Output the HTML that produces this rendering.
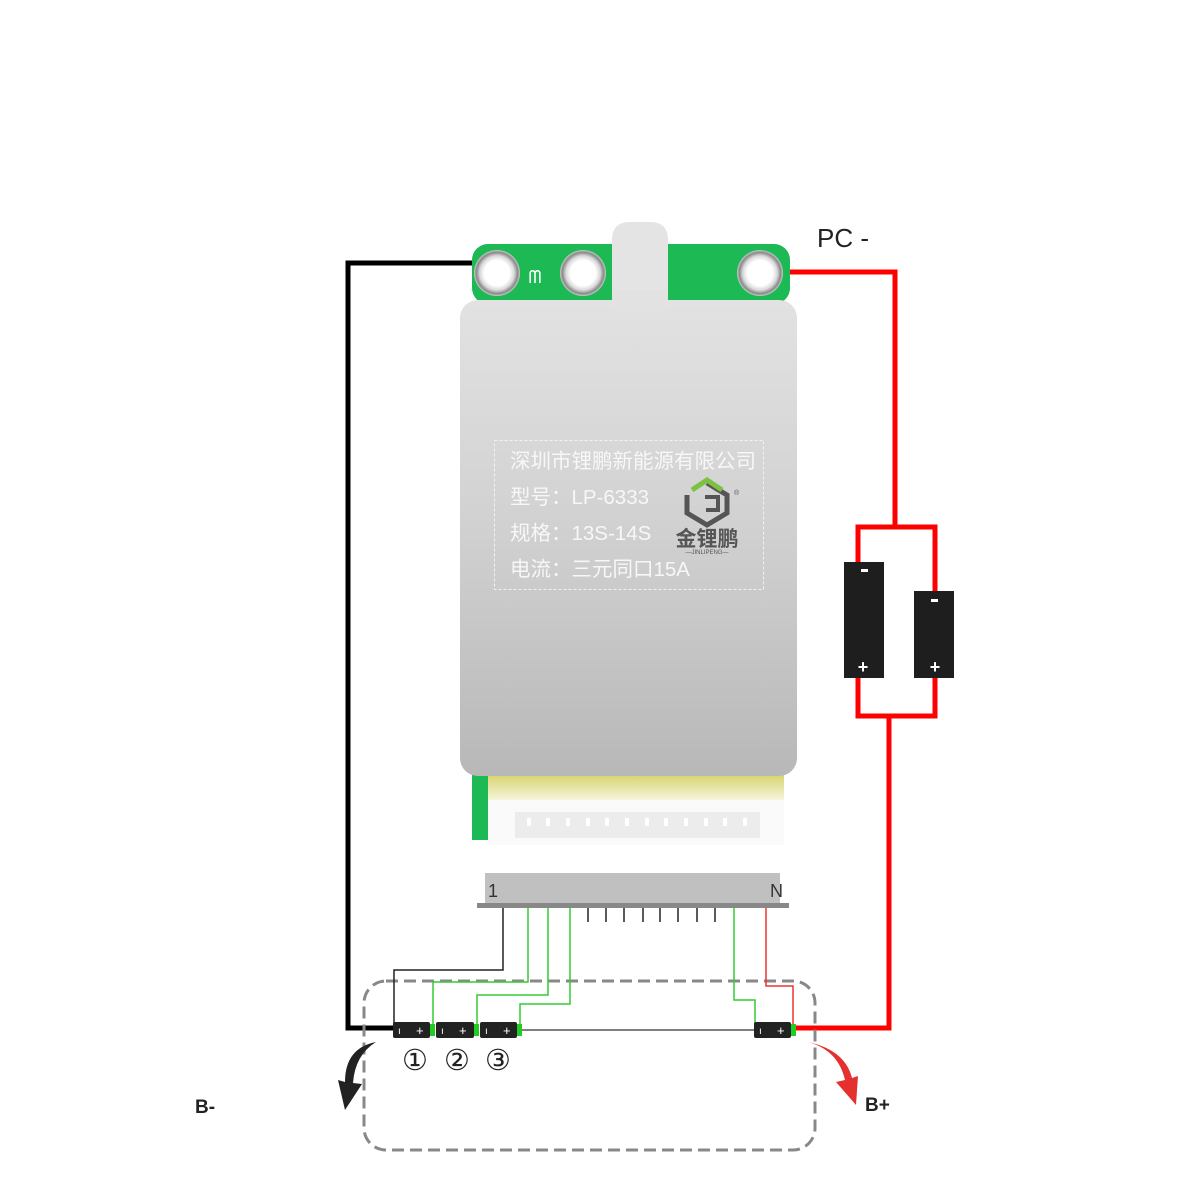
<!DOCTYPE html>
<html><head><meta charset="utf-8"><style>
html,body{margin:0;padding:0;background:#fff;}
svg{display:block;}
</style></head><body>
<svg width="1200" height="1200" viewBox="0 0 1200 1200" xmlns="http://www.w3.org/2000/svg">
<defs>
<linearGradient id="metal" x1="0" y1="0" x2="0" y2="1">
<stop offset="0" stop-color="#e2e2e2"/><stop offset="0.45" stop-color="#d2d2d2"/><stop offset="1" stop-color="#b8b8b8"/>
</linearGradient>
<radialGradient id="hole" cx="0.5" cy="0.5" r="0.5">
<stop offset="0.55" stop-color="#ffffff"/><stop offset="0.75" stop-color="#d8d8d8"/><stop offset="0.9" stop-color="#888"/><stop offset="1" stop-color="#ccc"/>
</radialGradient>
<linearGradient id="yel" x1="0" y1="0" x2="0" y2="1">
<stop offset="0" stop-color="#d8d470"/><stop offset="1" stop-color="#fbfbf0"/>
</linearGradient>
</defs>

<polyline points="472,263 348,263 348,1028 395,1028" fill="none" stroke="#000" stroke-width="5"/>
<polyline points="790,272 895,272 895,527" fill="none" stroke="#f00" stroke-width="5"/>
<rect x="858" y="527" width="77" height="189" fill="none" stroke="#f00" stroke-width="5"/>
<polyline points="889,716 889,1028 795,1028" fill="none" stroke="#f00" stroke-width="5"/>
<rect x="844" y="562" width="40" height="116" fill="#1e1e1e"/>
<rect x="861" y="569" width="7" height="3" fill="#fff"/>
<text x="863" y="673" font-family="Liberation Sans,sans-serif" font-size="18" fill="#fff" text-anchor="middle" font-weight="bold">+</text>
<rect x="914" y="591" width="40" height="87" fill="#1e1e1e"/>
<rect x="931" y="599" width="7" height="3" fill="#fff"/>
<text x="935" y="673" font-family="Liberation Sans,sans-serif" font-size="18" fill="#fff" text-anchor="middle" font-weight="bold">+</text>

<text x="817" y="247" font-family="Liberation Sans,sans-serif" font-size="26" fill="#222">PC -</text>

<rect x="472" y="244" width="318" height="60" rx="16" fill="#1db954"/>
<circle cx="497" cy="273" r="23" fill="url(#hole)"/>
<circle cx="583" cy="273" r="23" fill="url(#hole)"/>
<circle cx="760" cy="273" r="23" fill="url(#hole)"/>
<text x="535" y="283" font-family="Liberation Sans,sans-serif" font-size="18" fill="#fff" text-anchor="middle">ᗰ</text>
<path d="M612,300 L612,240 Q612,222 630,222 L650,222 Q668,222 668,240 L668,300 Z" fill="#e4e4e4"/>
<rect x="472" y="760" width="310" height="80" fill="#1db954"/>
<rect x="488" y="775" width="296" height="30" fill="url(#yel)"/>
<rect x="488" y="800" width="296" height="45" fill="#fafafa"/>
<rect x="515" y="812" width="245" height="26" fill="#ececec"/>
<g fill="#fff">
<rect x="527" y="818" width="4" height="8"/><rect x="546" y="818" width="4" height="8"/><rect x="566" y="818" width="4" height="8"/><rect x="586" y="818" width="4" height="8"/><rect x="605" y="818" width="4" height="8"/><rect x="625" y="818" width="4" height="8"/><rect x="645" y="818" width="4" height="8"/><rect x="664" y="818" width="4" height="8"/><rect x="684" y="818" width="4" height="8"/><rect x="704" y="818" width="4" height="8"/><rect x="723" y="818" width="4" height="8"/><rect x="743" y="818" width="4" height="8"/>
</g>
<rect x="460" y="300" width="337" height="476" rx="18" fill="url(#metal)"/>
<rect x="612" y="290" width="56" height="20" fill="#e2e2e2"/>
<rect x="494.5" y="440.5" width="269" height="149" fill="none" stroke="#f2f2f2" stroke-width="1" stroke-dasharray="3 2"/>
<g font-family="Liberation Sans,'Noto Sans CJK SC',sans-serif" font-size="20.5" fill="#f7f7f7">
<text x="510" y="468">深圳市锂鹏新能源有限公司</text>
<text x="510" y="504">型号：LP-6333</text>
<text x="510" y="540">规格：13S-14S</text>
<text x="510" y="576">电流：三元同口15A</text>
</g>
<path d="M707,483 L727,495 L727,513 L707,525 L687,513 L687,495" fill="none" stroke="#555" stroke-width="5"/>
<path d="M692,490 L707,480 L722,490" fill="none" stroke="#7bc142" stroke-width="5"/>
<path d="M705,497 L718,497 L718,510 L706,510" fill="none" stroke="#555" stroke-width="4"/>
<text x="734" y="495" font-family="Liberation Sans,sans-serif" font-size="7" fill="#555">®</text>
<text x="707" y="546" font-family="'Noto Sans CJK SC',sans-serif" font-size="21" font-weight="bold" fill="#555" text-anchor="middle">金锂鹏</text>
<text x="707" y="554" font-family="Liberation Sans,sans-serif" font-size="6" fill="#555" text-anchor="middle">—JINLIPENG—</text>

<rect x="485" y="873" width="295" height="31" fill="#c0c0c0"/>
<rect x="477" y="903" width="312" height="5" fill="#888"/>
<text x="488" y="897" font-family="Liberation Sans,sans-serif" font-size="18" fill="#333">1</text>
<text x="770" y="897" font-family="Liberation Sans,sans-serif" font-size="18" fill="#333">N</text>
<g stroke="#222" stroke-width="1.5">
<line x1="588" y1="908" x2="588" y2="922"/><line x1="606" y1="908" x2="606" y2="922"/><line x1="624" y1="908" x2="624" y2="922"/><line x1="643" y1="908" x2="643" y2="922"/><line x1="660" y1="908" x2="660" y2="922"/><line x1="678" y1="908" x2="678" y2="922"/><line x1="697" y1="908" x2="697" y2="922"/><line x1="715" y1="908" x2="715" y2="922"/>
</g>

<rect x="364" y="981" width="451" height="169" rx="22" fill="none" stroke="#888" stroke-width="3" stroke-dasharray="12 6"/>

<polyline points="503,908 503,970 394,970 394,1024" fill="none" stroke="#222" stroke-width="1.5"/>
<polyline points="528,908 528,982 433,982 433,1024" fill="none" stroke="#3c3" stroke-width="1.5"/>
<polyline points="548,908 548,995 477,995 477,1024" fill="none" stroke="#3c3" stroke-width="1.5"/>
<polyline points="570,908 570,1004 520,1004 520,1024" fill="none" stroke="#3c3" stroke-width="1.5"/>
<polyline points="734,908 734,1000 755,1000 755,1024" fill="none" stroke="#3c3" stroke-width="1.5"/>
<polyline points="766,908 766,986 793,986 793,1024" fill="none" stroke="#e33" stroke-width="1.5"/>
<line x1="520" y1="1030" x2="754" y2="1030" stroke="#555" stroke-width="1.5"/>

<g font-family="Liberation Sans,sans-serif" fill="#fff">
<rect x="393" y="1022" width="37" height="16" rx="2" fill="#222"/><rect x="430" y="1024" width="5" height="12" fill="#2c2"/>
<text x="398" y="1034" font-size="10">ı</text><text x="416" y="1035" font-size="13">+</text>
<rect x="436" y="1022" width="38" height="16" rx="2" fill="#222"/><rect x="474" y="1024" width="5" height="12" fill="#2c2"/>
<text x="441" y="1034" font-size="10">ı</text><text x="459" y="1035" font-size="13">+</text>
<rect x="480" y="1022" width="37" height="16" rx="2" fill="#222"/><rect x="517" y="1024" width="5" height="12" fill="#2c2"/>
<text x="485" y="1034" font-size="10">ı</text><text x="503" y="1035" font-size="13">+</text>
<rect x="754" y="1022" width="37" height="16" rx="2" fill="#222"/><rect x="791" y="1024" width="5" height="12" fill="#2c2"/>
<text x="759" y="1034" font-size="10">ı</text><text x="777" y="1035" font-size="13">+</text>
</g>
<g font-family="'DejaVu Sans',sans-serif" font-size="29" fill="#222" text-anchor="middle">
<text x="415" y="1070">①</text><text x="457" y="1070">②</text><text x="498" y="1070">③</text>
</g>

<path d="M376,1042 Q345,1048 345,1082 L338,1080 L345,1110 L362,1084 L353,1083 Q355,1055 376,1042 Z" fill="#222"/>
<path d="M808,1042 Q838,1050 845,1080 L836,1082 L856,1105 L858,1076 L852,1078 Q845,1050 808,1042 Z" fill="#e53030"/>
<text x="195" y="1113" font-family="Liberation Sans,sans-serif" font-size="19" font-weight="bold" fill="#222">B-</text>
<text x="865" y="1111" font-family="Liberation Sans,sans-serif" font-size="19" font-weight="bold" fill="#222">B+</text>
</svg>
</body></html>
